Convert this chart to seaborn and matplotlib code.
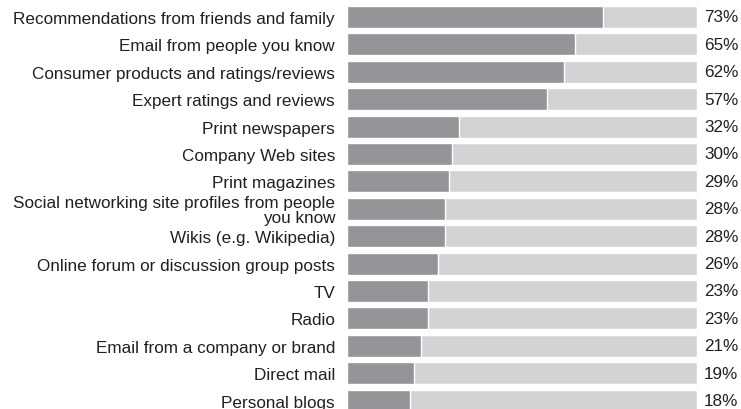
import matplotlib
matplotlib.use("Agg")
import matplotlib.pyplot as plt
import seaborn as sns
import pandas as pd

sources = [
    "Recommendations from friends and family",
    "Email from people you know",
    "Consumer products and ratings/reviews",
    "Expert ratings and reviews",
    "Print newspapers",
    "Company Web sites",
    "Print magazines",
    "Social networking site profiles from people\nyou know",
    "Wikis (e.g. Wikipedia)",
    "Online forum or discussion group posts",
    "TV",
    "Radio",
    "Email from a company or brand",
    "Direct mail",
    "Personal blogs",
]
trust_pct = [73, 65, 62, 57, 32, 30, 29, 28, 28, 26, 23, 23, 21, 19, 18]
full_scale = [100] * len(sources)

df = pd.DataFrame({"source": sources, "pct": trust_pct, "full": full_scale})

sns.set_theme(style="white")
plt.rcParams["font.family"] = ["Liberation Sans", "DejaVu Sans"]

FS = 12.3
W, H = 741, 410
fig = plt.figure(figsize=(W / 100, H / 100), dpi=100)
ax = fig.add_axes([347 / W, 0, (697 - 347) / W, 1])

sns.barplot(data=df, x="full", y="source", orient="h", color="#d1d3d4",
            width=0.8, saturation=1, ax=ax)
sns.barplot(data=df, x="pct", y="source", orient="h", color="#939598",
            width=0.8, saturation=1, ax=ax)

# row i centred at pixel 18 + 27.4 * i from the top
step, first = 27.4, 18
ax.set_ylim((H - first) / step, -first / step)
ax.set_xlim(0, 100)

for i, v in enumerate(trust_pct):
    ax.annotate(f"{v}%", xy=(100, i), xytext=(5.2, 0), textcoords="offset points",
                ha="left", va="center", fontsize=FS, color="#231f20")

ax.set_xlabel("")
ax.set_ylabel("")
ax.set_xticks([])
ax.tick_params(axis="y", length=0, pad=8.6, labelsize=FS, labelcolor="#231f20")
for lbl in ax.get_yticklabels():
    lbl.set_multialignment("right")
    lbl.set_linespacing(0.95)
sns.despine(ax=ax, left=True, bottom=True)

fig.savefig("out.png", dpi=100)
